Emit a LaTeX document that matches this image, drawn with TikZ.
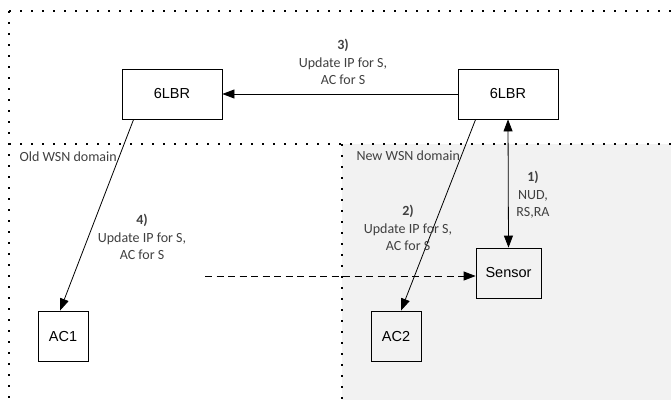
\documentclass[tikz,border=0pt]{standalone}
\usepackage{fontspec}
\setmainfont{Liberation Sans}
\newfontfamily\notefont{Carlito}
\usetikzlibrary{arrows.meta}
\definecolor{domaingray}{HTML}{F2F2F2}
\definecolor{notegray}{HTML}{404040}

\begin{document}
\begin{tikzpicture}[x=1pt,y=-1pt,
  box/.style={draw, line width=0.8pt, minimum width=100pt, minimum height=50pt,
    inner sep=0pt, font=\fontsize{14.5}{16}\selectfont},
  note/.style={align=center, text=notegray, font=\notefont\fontsize{14}{17.5}\selectfont},
  border/.style={line width=2pt, dash pattern=on 2pt off 9pt},
  msg/.style={line width=0.8pt, -{Triangle[length=12pt,width=9pt]}}]
  \useasboundingbox (0,0) rectangle (671,400);
  % Domains
  \fill[domaingray] (342,144) rectangle (671,400);
  \draw[border] (9,11) -- (671,11);
  \draw[border] (9,11) -- (9,400);
  \draw[border] (9,144) -- (671,144);
  \draw[border] (342,144) -- (342,400);
  \node[note, anchor=west] (olddom) at (16,157) {Old WSN domain};
  \node[note, anchor=west] (newdom) at (353,156) {New WSN domain};
  % Nodes
  \node[box] (lbrold) at (172,94) {6LBR};
  \node[box] (lbrnew) at (508,94) {6LBR};
  \node[box, minimum width=65pt] (sensor) at (508.5,273) {Sensor};
  \node[box, minimum width=50pt] (acold) at (63,336) {AC1};
  \node[box, minimum width=50pt] (acnew) at (396,336) {AC2};
  \coordinate (roam) at (205,276);
  % Messages
  \draw[msg, {Triangle[length=12pt,width=9pt]}-{Triangle[length=12pt,width=9pt]}]
    (lbrnew.south) -- (sensor.north);
  \draw[msg] ([xshift=18pt]lbrnew.south west) -- ([xshift=5pt]acnew.north);
  \draw[msg] (lbrnew.west) -- (lbrold.east);
  \draw[msg] ([xshift=12pt]lbrold.south west) -- ([xshift=-3pt]acold.north);
  \draw[msg, dash pattern=on 7pt off 4.5pt] (roam) -- (roam -| sensor.west);
  % Labels
  \node[note] (step1) at (533,195) {\textbf{1)}\\NUD,\\RS,RA};
  \node[note] (step2) at (408,228) {\textbf{2)}\\Update IP for S,\\AC for S};
  \node[note] (step3) at (343,62) {\textbf{3)}\\Update IP for S,\\AC for S};
  \node[note] (step4) at (142,237) {\textbf{4)}\\Update IP for S,\\AC for S};
\end{tikzpicture}
\end{document}
